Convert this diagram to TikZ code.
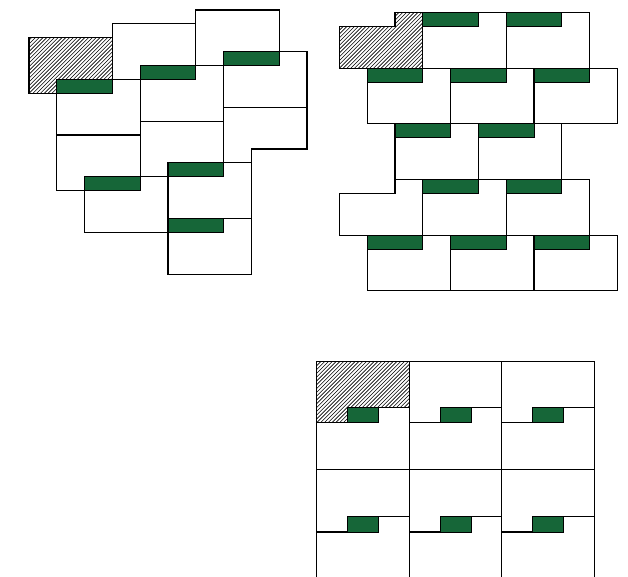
\documentclass[tikz,border=0pt]{standalone}
\definecolor{lapgreen}{RGB}{22,102,56}
\tikzset{
  tile/.style={draw=black, fill=white, line width=1.2pt, line join=miter},
  lap/.style={draw=black, fill=lapgreen, line width=0.8pt},
  hatchline/.style={draw=black, line width=0.6pt},
}
\begin{document}
\begin{tikzpicture}[x=1pt,y=-1pt]
\useasboundingbox (0,0) rectangle (628,577);
\clip (0,0) rectangle (628,577);

% ---------- diagram 1 (top left) ----------
\begin{scope}[shift={(29,10)}]
\begin{scope}[x=27.8pt,y=-13.9pt]
  \fill[white] (0,2) rectangle (3,6);
  \begin{scope}
    \clip (0,2) rectangle (3,6);
    \foreach \k in {-30,...,40} {
      \draw[hatchline] ({\k*0.1367},6) -- ++(4,-8);
    }
  \end{scope}
  \draw[tile, fill=none] (0,2) rectangle (3,6);
  \draw[tile] (3,1) rectangle (6,5);
  \draw[tile] (6,0) rectangle (9,4);
  \draw[tile] (1,5) rectangle (4,9);  \draw[lap] (1,5) rectangle (3,6);
  \draw[tile] (4,4) rectangle (7,8);  \draw[lap] (4,4) rectangle (6,5);
  \draw[tile] (7,3) rectangle (10,7); \draw[lap] (7,3) rectangle (9,4);
  \draw[tile] (1,9) rectangle (4,13);
  \draw[tile] (4,8) rectangle (7,12);
  \draw[tile] (7,7) -- (10,7) -- (10,10) -- (8,10) -- (8,11) -- (7,11) -- cycle;
  \draw[tile] (2,12) rectangle (5,16); \draw[lap] (2,12) rectangle (4,13);
  \draw[tile] (5,11) rectangle (8,15); \draw[lap] (5,11) rectangle (7,12);
  \draw[tile] (5,15) rectangle (8,19); \draw[lap] (5,15) rectangle (7,16);
\end{scope}
\end{scope}

% ---------- diagram 2 (top right) ----------
\begin{scope}[shift={(339.3,12.7)}]
\begin{scope}[x=27.8pt,y=-13.9pt]
  \fill[white] (2,0) -- (3,0) -- (3,4) -- (0,4) -- (0,1) -- (2,1) -- cycle;
  \begin{scope}
    \clip (2,0) -- (3,0) -- (3,4) -- (0,4) -- (0,1) -- (2,1) -- cycle;
    \foreach \k in {-30,...,40} {
      \draw[hatchline] ({\k*0.1367},4) -- ++(4,-8);
    }
  \end{scope}
  \draw[tile, fill=none] (2,0) -- (3,0) -- (3,4) -- (0,4) -- (0,1) -- (2,1) -- cycle;
  \foreach \i/\j in {3/0,6/0,1/4,4/4,7/4,2/8,5/8,3/12,6/12,1/16,4/16,7/16} {
    \draw[tile] (\i,\j) rectangle ++(3,4);
    \draw[lap] (\i,\j) rectangle ++(2,1);
  }
  \draw[tile] (2,12) -- (3,12) -- (3,16) -- (0,16) -- (0,13) -- (2,13) -- cycle;
\end{scope}
\end{scope}

% ---------- diagram 3 (bottom right) ----------
\begin{scope}[shift={(316.7,0)}]
\begin{scope}[x=30.85pt]
  \foreach \Y/\S/\H/\E in {361.7/407.3/422.7/469.5, 469.5/516.7/532/590} {
    \foreach \c in {0,1,2} {
      \pgfmathsetmacro\xa{3*\c}
      \pgfmathsetmacro\xb{3*\c+1}
      \pgfmathsetmacro\xd{3*\c+3}
      \draw[tile] (\xa,\Y) -- (\xd,\Y) -- (\xd,\S) -- (\xb,\S) -- (\xb,\H) -- (\xa,\H) -- cycle;
      \draw[tile] (\xa,\H) -- (\xb,\H) -- (\xb,\S) -- (\xd,\S) -- (\xd,\E) -- (\xa,\E) -- cycle;
    }
  }
  % hatched upper tile of the first column
  \begin{scope}
    \clip (0,361.7) -- (3,361.7) -- (3,407.3) -- (1,407.3) -- (1,422.7) -- (0,422.7) -- cycle;
    \foreach \k in {-40,...,40} {
      \draw[hatchline] ({\k*0.1232},422.7) -- ++(3.5,-108);
    }
  \end{scope}
  \draw[tile, fill=none] (0,361.7) -- (3,361.7) -- (3,407.3) -- (1,407.3) -- (1,422.7) -- (0,422.7) -- cycle;
  \foreach \Y/\S/\H in {361.7/407.3/422.7, 469.5/516.7/532} {
    \foreach \c in {0,1,2} {
      \pgfmathsetmacro\xb{3*\c+1}
      \pgfmathsetmacro\xc{3*\c+2}
      \draw[lap] (\xb,\S) rectangle (\xc,\H);
    }
  }
\end{scope}
\end{scope}
\end{tikzpicture}
\end{document}
